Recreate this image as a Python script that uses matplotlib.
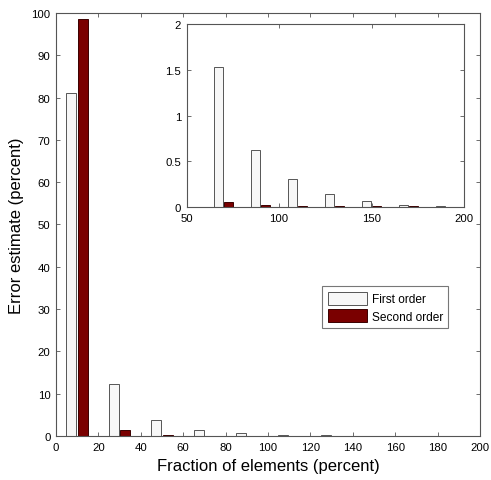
import matplotlib
matplotlib.use("Agg")
import matplotlib.pyplot as plt
import numpy as np

plt.rcParams['font.family'] = ['Liberation Sans', 'DejaVu Sans']

fraction = [10, 30, 50, 70, 90, 110, 130, 150, 170, 190]
first_order = [81.0, 12.3, 3.85, 1.53, 0.63, 0.308, 0.141, 0.064, 0.029, 0.016]
second_order = [98.5, 1.3, 0.25, 0.055, 0.029, 0.016, 0.016, 0.010, 0.009, 0.006]
inset_start = 3  # inset shows groups from 70 percent onwards

white_fc = '#f7f7f7'
white_ec = '#555555'
red_fc = '#7a0000'
red_ec = '#3a0000'
spine_c = '#555555'

fig = plt.figure(figsize=(4.91, 4.81), dpi=100)
ax = fig.add_axes([0.114, 0.0915, 0.8636, 0.8795])

x = np.array(fraction, dtype=float)
off = 2.75
w = 4.7

def style(a):
    for s in a.spines.values():
        s.set_color(spine_c)
        s.set_linewidth(0.8)
    a.tick_params(direction='in', length=3, width=0.6, color=spine_c,
                  labelsize=8.2, top=True, right=True, pad=4)

ax.bar(x - off, first_order, width=w, facecolor=white_fc, edgecolor=white_ec,
       linewidth=0.7, label='First order')
ax.bar(x + off, second_order, width=w, facecolor=red_fc, edgecolor=red_ec,
       linewidth=0.7, label='Second order')
ax.set_xlim(0, 200)
ax.set_ylim(0, 100)
ax.set_xticks(np.arange(0, 201, 20))
ax.set_yticks(np.arange(0, 101, 10))
style(ax)
ax.set_xlabel('Fraction of elements (percent)', fontsize=12, labelpad=5)
ax.set_ylabel('Error estimate (percent)', fontsize=12, labelpad=5)

leg = ax.legend(loc='upper left', bbox_to_anchor=(0.628, 0.354), fontsize=8.6,
                frameon=True, fancybox=False, edgecolor=spine_c,
                handlelength=3.3, handleheight=1.35, borderpad=0.45,
                labelspacing=0.3, handletextpad=0.4, borderaxespad=0)
leg.get_frame().set_linewidth(0.8)

ins = fig.add_axes([0.380, 0.567, 0.565, 0.381])
xi = x[inset_start:]
ins.bar(xi - off, first_order[inset_start:], width=w, facecolor=white_fc,
        edgecolor=white_ec, linewidth=0.7)
ins.bar(xi + off, second_order[inset_start:], width=w, facecolor=red_fc,
        edgecolor=red_ec, linewidth=0.7)
ins.set_xlim(50, 200)
ins.set_ylim(0, 2)
ins.set_xticks([50, 100, 150, 200])
ins.set_yticks([0, 0.5, 1, 1.5, 2])
ins.set_yticklabels(['0', '0.5', '1', '1.5', '2'])
style(ins)

fig.savefig('out.png', dpi=100)
